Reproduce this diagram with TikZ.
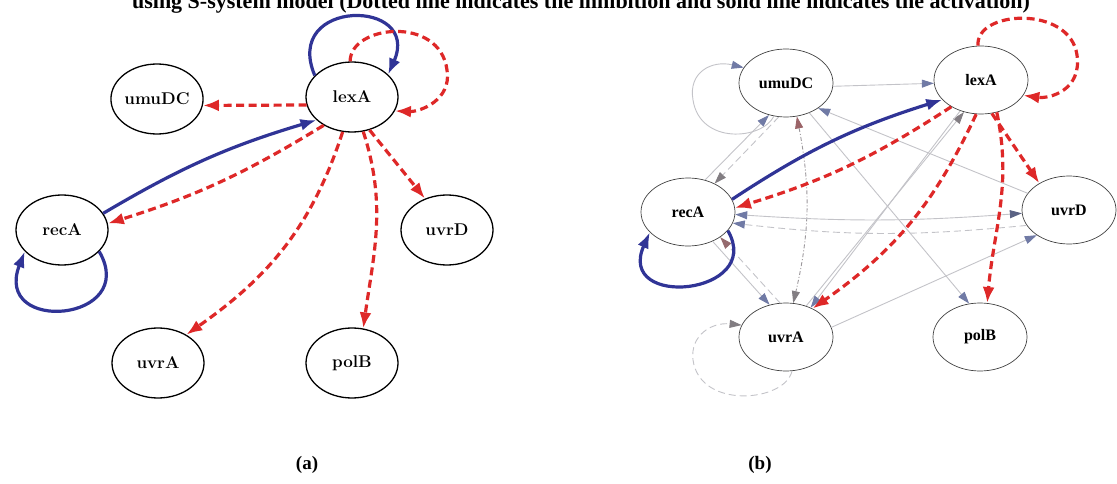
\documentclass[tikz,border=0pt]{standalone}
\usepackage{fontspec}
\setmainfont{Liberation Serif}
\newfontfamily\lmfont{Latin Modern Roman}
\usetikzlibrary{arrows.meta,shapes.geometric}
\definecolor{inhred}{RGB}{222,40,40}
\definecolor{actblue}{RGB}{48,52,150}
\definecolor{lgray}{RGB}{195,195,200}
\definecolor{agray}{RGB}{112,122,165}
\definecolor{dgray}{RGB}{130,125,130}
\tikzset{
  x=1pt, y=1pt,
  lnode/.style={draw=black, line width=1.3pt, ellipse, minimum width=92pt, minimum height=70pt, inner sep=0pt, font=\lmfont\bfseries\fontsize{17}{19}\selectfont},
  rnode/.style={draw=black!75, line width=0.7pt, ellipse, minimum width=94pt, minimum height=68pt, inner sep=0pt, font=\bfseries\fontsize{16}{18}\selectfont},
  inh/.style={draw=inhred, line width=3.2pt, dash pattern=on 8pt off 4.5pt, -{Latex[length=16pt,width=12pt]}},
  act/.style={draw=actblue, line width=3.2pt, -{Latex[length=16pt,width=12pt]}},
  glink/.style={draw=lgray, line width=0.9pt, -{Triangle[length=12pt,width=8pt,color=agray]}},
  gdash/.style={glink, dash pattern=on 7pt off 4pt},
  gdot/.style={draw=dgray!80, line width=0.9pt, dash pattern=on 4pt off 2pt on 1pt off 2pt},
  caption/.style={font=\bfseries\fontsize{19}{22}\selectfont},
  titlefont/.style={font=\bfseries\fontsize{22}{24}\selectfont}
}
\begin{document}
\begin{tikzpicture}
\useasboundingbox (0,0) rectangle (1117,-484);
\node[titlefont, anchor=base, inner sep=0pt] (title) at (581,-9) {using S-system model (Dotted line indicates the inhibition and solid line indicates the activation)};
% ---------- (a) ----------
\node[lnode] (LlexA) at (352,-97) {lexA};
\node[lnode] (LumuDC) at (157,-99) {umuDC};
\node[lnode] (LrecA) at (62,-230) {recA};
\node[lnode] (LuvrD) at (447,-230) {uvrD};
\node[lnode] (LuvrA) at (158,-363) {uvrA};
\node[lnode] (LpolB) at (352,-363) {polB};
\draw[act] (LlexA.150) .. controls (282,2) and (422,2) .. (LlexA.32);
\draw[inh] (LlexA.93) .. controls (350,-25) and (440,-15) .. (447,-70) .. controls (452,-100) and (420,-112) .. (LlexA.-18);
\draw[inh] (LlexA.190) -- (LumuDC.-8);
\draw[act] (LrecA.22) to[bend left=7] (LlexA.213);
\draw[inh] (LlexA.225) to[bend left=7] (LrecA.8);
\draw[inh] (LlexA.255) to[out=252,in=35] (LuvrA.45);
\draw[inh] (LlexA.-62) -- (LuvrD.125);
\draw[inh] (LlexA.-72) to[out=-72,in=82] (LpolB.72);
\draw[act] (LrecA.-30) .. controls (140,-322) and (-8,-335) .. (LrecA.-150);
\node[caption] (capa) at (307,-465) {(a)};
% ---------- (b) ----------
\node[rnode] (RlexA) at (981,-80) {lexA};
\node[rnode] (RumuDC) at (786,-83) {umuDC};
\node[rnode] (RrecA) at (688,-212) {recA};
\node[rnode] (RuvrD) at (1069,-210) {uvrD};
\node[rnode] (RuvrA) at (786,-337) {uvrA};
\node[rnode] (RpolB) at (980,-337) {polB};
% gray links
\draw[glink] (RumuDC.-110) .. controls (762,-140) and (700,-145) .. (693,-100) .. controls (688,-72) and (712,-60) .. (RumuDC.160);
\draw[glink] (RumuDC.-4) -- (RlexA.184);
\draw[glink] (RrecA.62) -- (RumuDC.-118);
\draw[gdash, -{Triangle[length=12pt,width=8pt,color=dgray]}] (RumuDC.-102) -- (RrecA.47);
\draw[gdot, {Triangle[length=12pt,width=8pt,color=dgray!80!red]}-{Triangle[length=12pt,width=8pt,color=dgray]}] (RumuDC.-72) to[bend left=12] (RuvrA.78);
\draw[glink] (RuvrD.158) -- (RumuDC.-38);
\draw[glink] (RumuDC.-52) -- (RpolB.108);
\draw[glink, -{Triangle[length=12pt,width=8pt,color=dgray]}] (RuvrA.57) -- (RlexA.-118);
\draw[glink] (RlexA.-124) -- (RuvrA.50);
\draw[glink, {Triangle[length=12pt,width=8pt,color=agray]}-{Triangle[length=12pt,width=8pt,color=agray!80!black]}] (RrecA.-3) to[bend right=4] (RuvrD.184);
\draw[gdash] (RuvrD.200) to[bend left=6] (RrecA.-14);
\draw[glink] (RrecA.-50) -- (RuvrA.117);
\draw[gdash, -{Triangle[length=12pt,width=8pt,color=dgray!85!red]}] (RuvrA.100) -- (RrecA.-38);
\draw[glink] (RuvrA.12) -- (RuvrD.-142);
\draw[gdash, -{Triangle[length=12pt,width=8pt,color=dgray]}] (RuvrA.-80) .. controls (785,-402) and (700,-410) .. (693,-360) .. controls (690,-335) and (712,-322) .. (RuvrA.165);
% red / blue
\draw[inh] (RlexA.95) .. controls (975,-10) and (1070,-5) .. (1077,-55) .. controls (1082,-90) and (1050,-99) .. (RlexA.-20);
\draw[act] (RrecA.16) to[bend left=8] (RlexA.207);
\draw[inh] (RlexA.222) to[bend left=8] (RrecA.5);
\draw[inh] (RlexA.-98) to[out=245,in=35] (RuvrA.47);
\draw[inh] (RlexA.-72) -- (RuvrD.138);
\draw[inh] (RlexA.-64) to[out=-78,in=85] (RpolB.78);
\draw[act] (RrecA.-25) .. controls (765,-295) and (615,-310) .. (RrecA.-152);
\node[caption] (capb) at (760,-465) {(b)};
\end{tikzpicture}
\end{document}
